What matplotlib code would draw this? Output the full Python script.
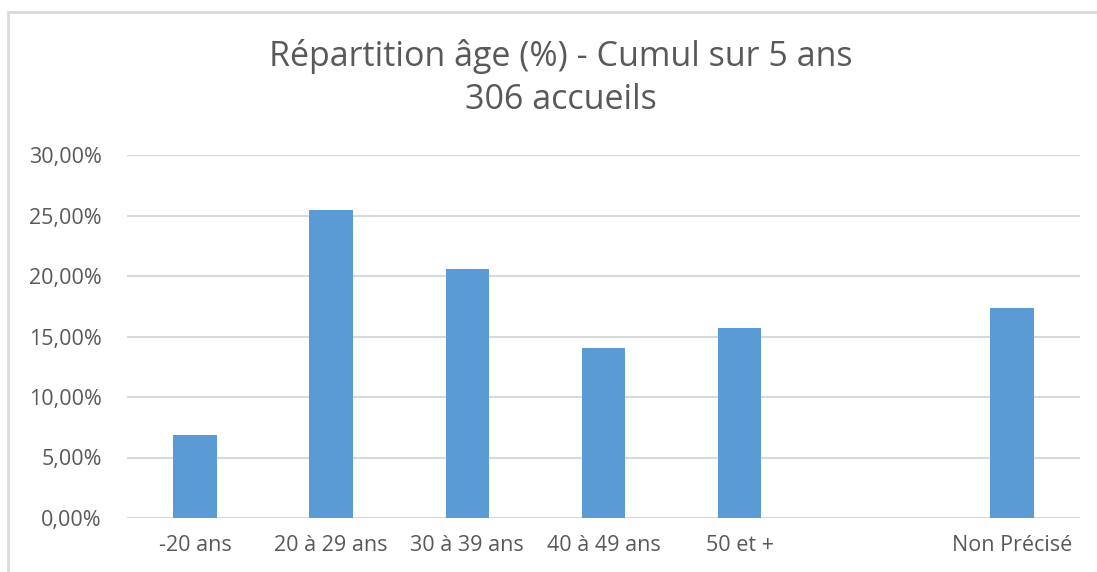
import matplotlib
matplotlib.use("Agg")
import matplotlib.pyplot as plt
from matplotlib.patches import Rectangle
from matplotlib.ticker import FuncFormatter

plt.rcParams['font.family'] = ['Open Sans', 'DejaVu Sans']

# Data (306 accueils, cumul sur 5 ans)
categories = ["-20 ans", "20 à 29 ans", "30 à 39 ans", "40 à 49 ans", "50 et +", "", "Non Précisé"]
percentages = [6.86, 25.49, 20.59, 14.05, 15.69, 0.0, 17.32]
y_ticks = [0, 5, 10, 15, 20, 25, 30]

BAR_COLOR = "#5b9bd5"
TEXT_COLOR = "#595959"
GRID_COLOR = "#d9d9d9"

fig = plt.figure(figsize=(10.97, 5.72), dpi=100)

# outer chart frame (left and top edges visible)
frame = Rectangle((8 / 1097, -0.1), 1.2, 1 - 12 / 572 + 0.1, transform=fig.transFigure,
                  fill=False, edgecolor=GRID_COLOR, linewidth=2, zorder=0)
fig.patches.append(frame)

ax = fig.add_axes([127 / 1097, 1 - 518 / 572, (1080 - 127) / 1097, (518 - 155) / 572])

x = range(len(categories))
ax.bar(x, percentages, width=0.32, color=BAR_COLOR, zorder=3)

ax.set_xlim(-0.5, len(categories) - 0.5)
ax.set_ylim(0, 30)
ax.set_yticks(y_ticks)
ax.yaxis.set_major_formatter(FuncFormatter(lambda v, p: f"{v:.2f}".replace(".", ",") + "%"))
ax.set_xticks(list(x))
ax.set_xticklabels(categories)

ax.grid(axis="y", color=GRID_COLOR, linewidth=1.5, zorder=0)
for s in ax.spines.values():
    s.set_visible(False)
ax.tick_params(length=0, labelsize=15.5, colors=TEXT_COLOR)
ax.tick_params(axis="x", pad=12)
ax.tick_params(axis="y", pad=18)

fig.text(0.511, 1 - 57 / 572, "Répartition âge (%) - Cumul sur 5 ans", ha="center", va="center",
         fontsize=24.5, color=TEXT_COLOR)
fig.text(0.511, 1 - 100 / 572, "306 accueils", ha="center", va="center",
         fontsize=24.5, color=TEXT_COLOR)

fig.savefig("out.png", dpi=100, facecolor="white")
